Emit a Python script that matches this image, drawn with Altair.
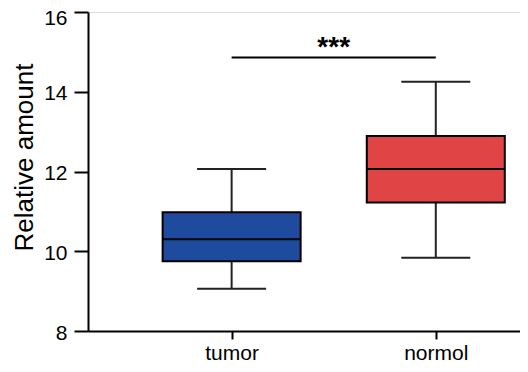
import altair as alt
import pandas as pd

categories = ["tumor", "normol"]
lower = [9.06, 9.84]
q1 = [9.75, 11.22]
median = [10.30, 12.06]
q3 = [10.98, 12.89]
upper = [12.06, 14.25]
colors = ["#1f4b9e", "#e04445"]
sig_label = "***"
sig_y = 14.86
y_ticks = [8, 10, 12, 14, 16]

df = pd.DataFrame({
    "pos": list(range(len(categories))),
    "cat": categories,
    "lower": lower, "q1": q1, "median": median, "q3": q3, "upper": upper,
})
sig_df = pd.DataFrame({"x": [0], "x2": [1], "y": [sig_y], "mid": [0.5], "label": [sig_label]})

FONT = "Liberation Sans"
label_expr = "[" + ",".join("'" + c + "'" for c in categories) + "][round(datum.value)]"

xs = alt.Scale(domain=[-0.679, 1.388], nice=False, zero=False)
ys = alt.Scale(domain=[8, 16], nice=False, zero=False)

x_enc = alt.X("pos:Q", scale=xs, axis=alt.Axis(
    values=[0, 1], labelExpr=label_expr, title=None, grid=False,
    tickSize=8, tickWidth=2, tickColor="black", domainWidth=2, domainColor="black",
    labelFontSize=21, labelFont=FONT, labelColor="black", labelPadding=3,
))
y_axis = alt.Axis(
    values=y_ticks, title="Relative amount", grid=False,
    tickSize=14, tickWidth=2, tickColor="black", domainWidth=2, domainColor="black",
    labelFontSize=21, labelFont=FONT, labelColor="black", labelPadding=7,
    labelOffset=alt.expr(f"datum.value == {y_ticks[-1]} ? 6 : 2"),
    titleFontSize=26, titleFont=FONT, titleFontWeight="normal", titleColor="black",
    titleX=-56, titleY=145, titleAngle=-90, titleAlign="center", titleBaseline="alphabetic",
)

base = alt.Chart(df)

whisk_lo = base.mark_rule(color="#222222", strokeWidth=2).encode(
    x=x_enc, y=alt.Y("lower:Q", scale=ys, axis=y_axis), y2="q1:Q")
whisk_hi = base.mark_rule(color="#222222", strokeWidth=2).encode(
    x="pos:Q", y="q3:Q", y2="upper:Q")
cap_lo = base.mark_tick(orient="horizontal", size=69, thickness=2, color="#222222", opacity=1).encode(
    x="pos:Q", y="lower:Q")
cap_hi = base.mark_tick(orient="horizontal", size=69, thickness=2, color="#222222", opacity=1).encode(
    x="pos:Q", y="upper:Q")
box = base.mark_bar(size=138, stroke="black", strokeWidth=2, opacity=1).encode(
    x="pos:Q", y="q1:Q", y2="q3:Q",
    fill=alt.Fill("cat:N", scale=alt.Scale(domain=categories, range=colors), legend=None))
med = base.mark_tick(orient="horizontal", size=138, thickness=2, color="black", opacity=1).encode(
    x="pos:Q", y="median:Q")

sig_line = alt.Chart(sig_df).mark_rule(color="black", strokeWidth=2).encode(
    x="x:Q", x2="x2:Q", y="y:Q")
sig_text = alt.Chart(sig_df).mark_text(font=FONT, fontSize=28, fontWeight="bold",
                                       baseline="alphabetic", align="center", dy=-1, color="black").encode(
    x="mid:Q", y="y:Q", text="label:N")

chart = alt.layer(whisk_lo, whisk_hi, cap_lo, cap_hi, box, med, sig_line, sig_text).properties(
    width=432, height=319,
    autosize=alt.AutoSizeParams(type="none"),
    padding={"left": 80, "top": 4, "right": 0, "bottom": 33},
).configure_view(stroke=None).configure(background="white")

chart.save("out.html", embed_options={"renderer": "svg", "actions": False})
